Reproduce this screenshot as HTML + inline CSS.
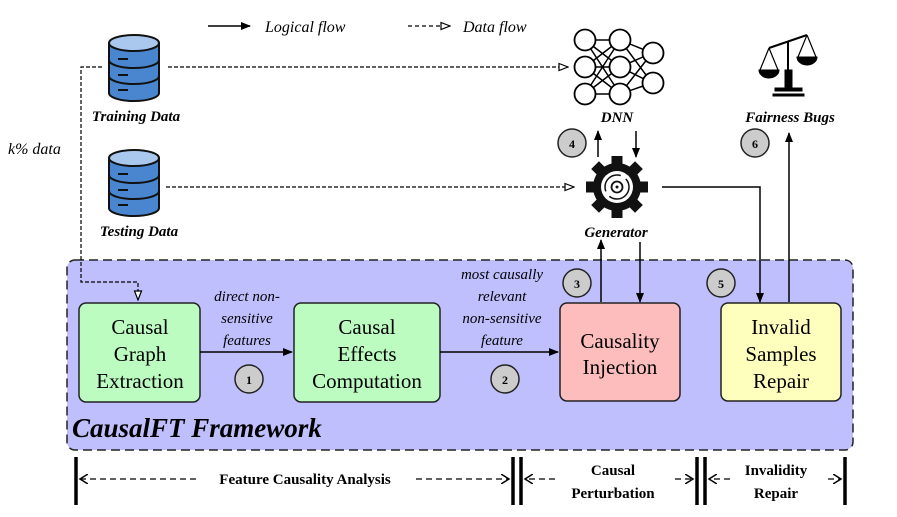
<!DOCTYPE html>
<html><head><meta charset="utf-8"><style>
body{margin:0;background:#fff}
svg text{font-family:"Liberation Serif",serif}
</style></head><body>
<svg width="897" height="512" viewBox="0 0 897 512" xmlns="http://www.w3.org/2000/svg">
<defs>
<marker id="a" markerWidth="10" markerHeight="8" refX="9" refY="4" orient="auto" markerUnits="userSpaceOnUse"><path d="M0,0 L10,4 L0,8 Z" fill="#000"/></marker>
<marker id="o" markerWidth="11" markerHeight="9" refX="10" refY="4.5" orient="auto" markerUnits="userSpaceOnUse"><path d="M1,1 L10,4.5 L1,8 Z" fill="#fff" stroke="#000" stroke-width="1.2"/></marker>
<marker id="v" markerWidth="10" markerHeight="10" refX="8" refY="5" orient="auto" markerUnits="userSpaceOnUse"><path d="M0,0 L8,5 L0,10" fill="none" stroke="#000" stroke-width="1.5"/></marker>
<g id="db">
<ellipse cx="0" cy="58" rx="25" ry="8" fill="#4a86cf" stroke="#111" stroke-width="2"/>
<rect x="-25" y="8" width="50" height="50" fill="#4a86cf"/>
<line x1="-25" y1="8" x2="-25" y2="58" stroke="#111" stroke-width="2"/><line x1="25" y1="8" x2="25" y2="58" stroke="#111" stroke-width="2"/>
<path d="M-25,25 a25,8 0 0 0 50,0 M-25,41 a25,8 0 0 0 50,0" fill="none" stroke="#111" stroke-width="2"/>
<ellipse cx="0" cy="8" rx="25" ry="8" fill="#aac8ee" stroke="#111" stroke-width="2"/>
<line x1="-16" y1="24" x2="-6" y2="24" stroke="#111" stroke-width="2"/><line x1="-16" y1="40" x2="-6" y2="40" stroke="#111" stroke-width="2"/><line x1="-16" y1="55" x2="-6" y2="55" stroke="#111" stroke-width="2"/>
</g>
</defs>
<line x1="208" y1="26" x2="250" y2="26" stroke="#000" stroke-width="1.5" marker-end="url(#a)"/>
<text x="265" y="32" font-size="16" font-style="italic">Logical flow</text>
<line x1="408" y1="26" x2="450" y2="26" stroke="#000" stroke-width="1.3" stroke-dasharray="4,3" marker-end="url(#o)"/>
<text x="463" y="32" font-size="16" font-style="italic">Data flow</text>
<rect x="67" y="260" width="786" height="190" rx="8" fill="#bfbffe" stroke="#222" stroke-width="1.5" stroke-dasharray="9,5"/>
<use href="#db" x="134" y="35"/>
<use href="#db" x="134" y="150"/>
<text x="136" y="121" font-size="15" font-weight="bold" font-style="italic" text-anchor="middle">Training Data</text>
<text x="139" y="236" font-size="15" font-weight="bold" font-style="italic" text-anchor="middle">Testing Data</text>
<text x="8" y="154" font-size="16" font-style="italic">k% data</text>
<polyline points="102,67 81,67 81,282 138,282 138,300" fill="none" stroke="#000" stroke-width="1.2" stroke-dasharray="4,2" marker-end="url(#o)"/>
<line x1="168" y1="67" x2="568" y2="67" stroke="#000" stroke-width="1.2" stroke-dasharray="4,2" marker-end="url(#o)"/>
<line x1="166" y1="187" x2="574" y2="187" stroke="#000" stroke-width="1.2" stroke-dasharray="4,2" marker-end="url(#o)"/>
<g stroke="#000" stroke-width="1.8" fill="#fff">
<g fill="none" stroke-width="1.5">
<path d="M585,40 L620,40 M585,40 L620,67 M585,40 L620,94 M585,67 L620,40 M585,67 L620,67 M585,67 L620,94 M585,94 L620,40 M585,94 L620,67 M585,94 L620,94 M620,40 L652,53 M620,40 L652,83 M620,67 L652,53 M620,67 L652,83 M620,94 L652,53 M620,94 L652,83"/>
</g>
<circle cx="585" cy="40" r="10.5"/><circle cx="585" cy="67" r="10.5"/><circle cx="585" cy="94" r="10.5"/>
<circle cx="620" cy="40" r="10.5"/><circle cx="620" cy="67" r="10.5"/><circle cx="620" cy="94" r="10.5"/>
<circle cx="653" cy="53" r="10.5"/><circle cx="653" cy="83" r="10.5"/>
</g>
<text x="617" y="122" font-size="15" font-weight="bold" font-style="italic" text-anchor="middle">DNN</text>
<g stroke="#000" fill="#000">
<line x1="769" y1="48" x2="807" y2="35" stroke-width="2"/>
<line x1="788" y1="42" x2="788" y2="72" stroke-width="2"/>
<rect x="785" y="70" width="7" height="20"/>
<rect x="775" y="88" width="27" height="3"/><rect x="773" y="94" width="31" height="2"/>
<path d="M769,48 L760,70 M769,48 L778,70 M807,35 L798,57 M807,35 L816,57" stroke-width="1.2" fill="none"/>
<path d="M759,70 L779,70 A10,8 0 0 1 759,70Z"/>
<path d="M797,57 L817,57 A10,8 0 0 1 797,57Z"/>
</g>
<text x="790" y="122" font-size="15" font-weight="bold" font-style="italic" text-anchor="middle">Fairness Bugs</text>
<g transform="translate(617,187)">
<g fill="#111">
<circle r="24"/>
<g id="t"><rect x="-5.5" y="-31" width="11" height="10"/></g>
<use href="#t" transform="rotate(45)"/><use href="#t" transform="rotate(90)"/><use href="#t" transform="rotate(135)"/><use href="#t" transform="rotate(180)"/><use href="#t" transform="rotate(225)"/><use href="#t" transform="rotate(270)"/><use href="#t" transform="rotate(315)"/>
</g>
<circle r="16" fill="#fff"/>
<circle r="12" fill="none" stroke="#111" stroke-width="1.5" stroke-dasharray="27,6"/>
<circle r="5.5" fill="none" stroke="#111" stroke-width="1.8"/>
<circle r="1.5" fill="#111"/>
</g>
<text x="616" y="237" font-size="15" font-weight="bold" font-style="italic" text-anchor="middle">Generator</text>
<g font-size="12" font-weight="bold" text-anchor="middle">
<circle cx="572" cy="143" r="14" fill="#ccc" stroke="#222" stroke-width="1.5"/><text x="572" y="148">4</text>
<circle cx="755" cy="143" r="14" fill="#ccc" stroke="#222" stroke-width="1.5"/><text x="755" y="148">6</text>
<circle cx="577" cy="283" r="14" fill="#ccc" stroke="#222" stroke-width="1.5"/><text x="577" y="288">3</text>
<circle cx="721" cy="283" r="14" fill="#ccc" stroke="#222" stroke-width="1.5"/><text x="721" y="288">5</text>
<circle cx="249" cy="379" r="14" fill="#ccc" stroke="#222" stroke-width="1.5"/><text x="249" y="384">1</text>
<circle cx="505" cy="379" r="14" fill="#ccc" stroke="#222" stroke-width="1.5"/><text x="505" y="384">2</text>
</g>
<line x1="598" y1="157" x2="598" y2="131" stroke="#000" stroke-width="1.5" marker-end="url(#a)"/>
<line x1="636" y1="131" x2="636" y2="157" stroke="#000" stroke-width="1.5" marker-end="url(#a)"/>
<line x1="601" y1="302" x2="601" y2="240" stroke="#000" stroke-width="1.5" marker-end="url(#a)"/>
<line x1="640" y1="242" x2="640" y2="302" stroke="#000" stroke-width="1.5" marker-end="url(#a)"/>
<polyline points="662,187 760,187 760,302" fill="none" stroke="#000" stroke-width="1.5" marker-end="url(#a)"/>
<line x1="789" y1="302" x2="789" y2="133" stroke="#000" stroke-width="1.5" marker-end="url(#a)"/>
<rect x="79" y="303" width="121" height="99" rx="7" fill="#bdfcc0" stroke="#222" stroke-width="1.5"/>
<rect x="294" y="303" width="146" height="99" rx="7" fill="#bdfcc0" stroke="#222" stroke-width="1.5"/>
<rect x="560" y="303" width="120" height="98" rx="7" fill="#febdbd" stroke="#222" stroke-width="1.5"/>
<rect x="721" y="303" width="120" height="98" rx="7" fill="#fefebd" stroke="#222" stroke-width="1.5"/>
<g font-size="21" text-anchor="middle">
<text x="140" y="334">Causal</text><text x="140" y="361">Graph</text><text x="140" y="388">Extraction</text>
<text x="367" y="334">Causal</text><text x="367" y="361">Effects</text><text x="367" y="388">Computation</text>
<text x="620" y="348">Causality</text><text x="620" y="374">Injection</text>
<text x="781" y="334">Invalid</text><text x="781" y="361">Samples</text><text x="781" y="388">Repair</text>
</g>
<line x1="200" y1="352" x2="292" y2="352" stroke="#000" stroke-width="1.5" marker-end="url(#a)"/>
<line x1="440" y1="352" x2="558" y2="352" stroke="#000" stroke-width="1.5" marker-end="url(#a)"/>
<g font-size="15" font-style="italic" text-anchor="middle">
<text x="247" y="301">direct non-</text><text x="247" y="323">sensitive</text><text x="247" y="345">features</text>
<text x="502" y="279">most causally</text><text x="502" y="301">relevant</text><text x="502" y="323">non-sensitive</text><text x="502" y="345">feature</text>
</g>
<text x="72" y="437" font-size="27" font-weight="bold" font-style="italic">CausalFT Framework</text>
<g stroke="#000" stroke-width="3.5">
<line x1="76" y1="457" x2="76" y2="505"/><line x1="513" y1="457" x2="513" y2="505"/><line x1="521" y1="457" x2="521" y2="505"/>
<line x1="697" y1="457" x2="697" y2="505"/><line x1="705" y1="457" x2="705" y2="505"/><line x1="845" y1="457" x2="845" y2="505"/>
</g>
<g stroke="#000" stroke-width="1.3" stroke-dasharray="6,4" fill="none">
<line x1="196" y1="479" x2="80" y2="479" marker-end="url(#v)"/>
<line x1="416" y1="479" x2="509" y2="479" marker-end="url(#v)"/>
<line x1="555" y1="479" x2="525" y2="479" marker-end="url(#v)"/>
<line x1="675" y1="479" x2="693" y2="479" marker-end="url(#v)"/>
<line x1="730" y1="479" x2="709" y2="479" marker-end="url(#v)"/>
<line x1="828" y1="479" x2="841" y2="479" marker-end="url(#v)"/>
</g>
<g font-size="15" font-weight="bold" text-anchor="middle">
<text x="305" y="484">Feature Causality Analysis</text>
<text x="613" y="475">Causal</text><text x="613" y="498">Perturbation</text>
<text x="776" y="475">Invalidity</text><text x="776" y="498">Repair</text>
</g>
</svg>
</body></html>
